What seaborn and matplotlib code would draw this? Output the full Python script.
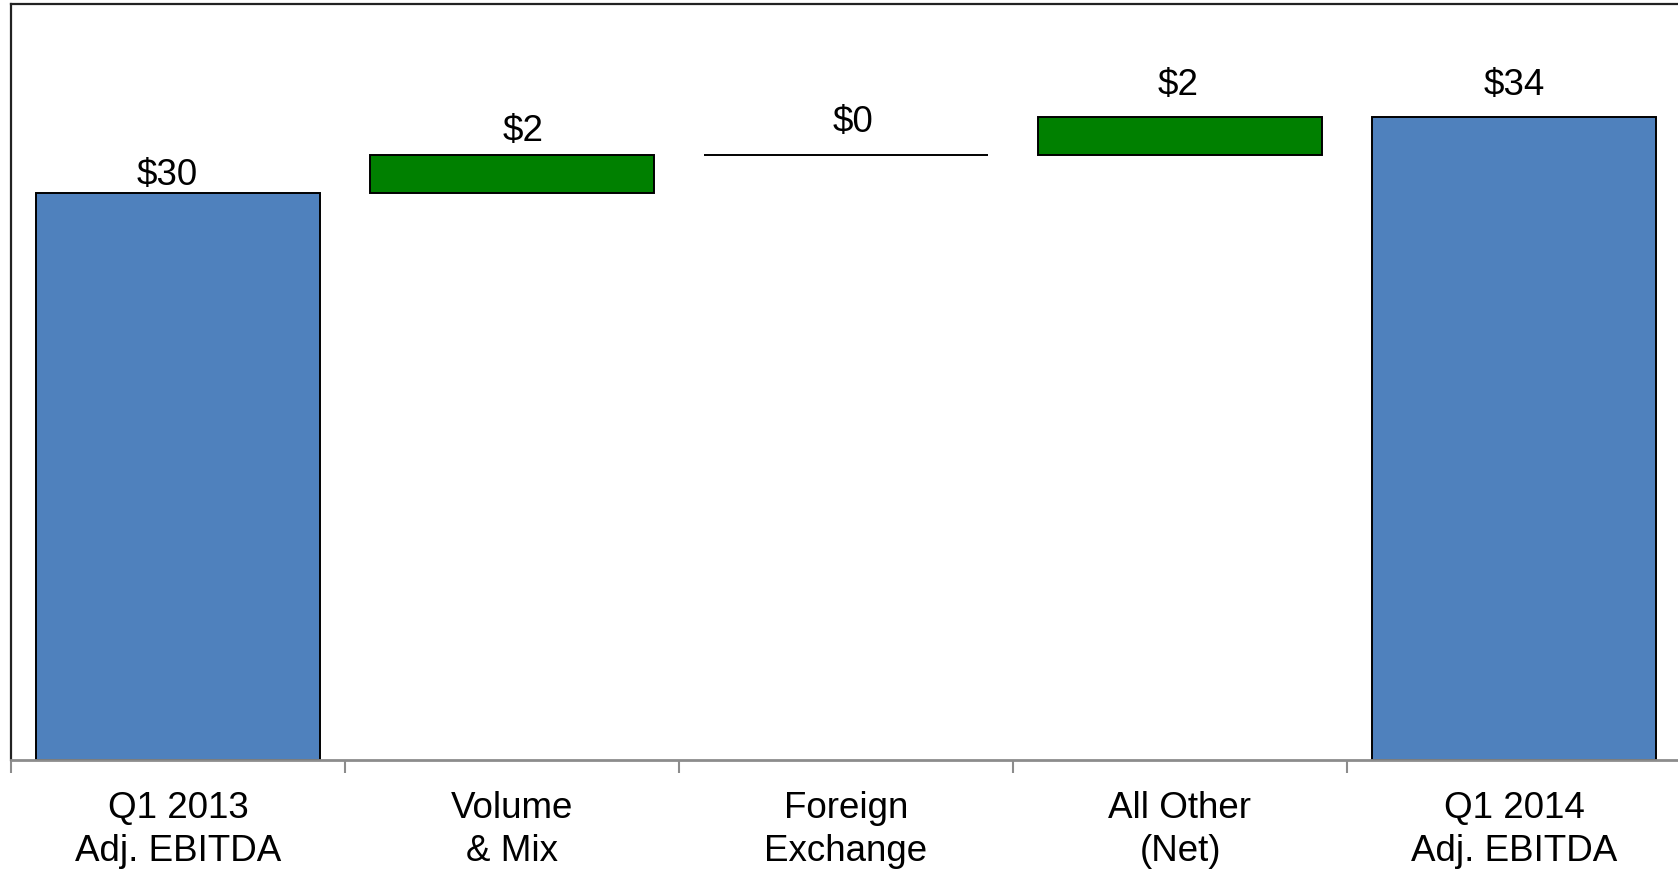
import numpy as np
import pandas as pd
import matplotlib
matplotlib.use("Agg")
import matplotlib.pyplot as plt
import seaborn as sns

# ---- data ----
categories = ["Q1 2013\nAdj. EBITDA", "Volume\n& Mix", "Foreign\nExchange",
              "All Other\n(Net)", "Q1 2014\nAdj. EBITDA"]
values = [30, 2, 0, 2, 34]
kinds = ["total", "delta", "delta", "delta", "total"]
value_labels = ["$30", "$2", "$0", "$2", "$34"]

# ---- waterfall geometry from data ----
bottoms = []
running = 0
for v, k in zip(values, kinds):
    if k == "total":
        bottoms.append(0)
        running = v
    else:
        bottoms.append(running)
        running += v
tops = [b + v for b, v in zip(bottoms, values)]

df = pd.DataFrame({"category": categories, "value": values, "bottom": bottoms})

sns.set_theme(style="white")
plt.rcParams["font.family"] = ["Liberation Sans", "DejaVu Sans"]

fig = plt.figure(figsize=(16.78, 8.7001), dpi=100)
ax = fig.add_axes([11 / 1678, 1 - 760 / 870, 1670 / 1678, 756 / 870])

colors = {"total": "#4F81BD", "delta": "#008000"}
sns.barplot(data=df, x="category", y="value", order=categories, bottom=bottoms,
            color=colors["total"], width=0.85, edgecolor="black", linewidth=1.4,
            ax=ax, errorbar=None)
for patch, k in zip(ax.patches, kinds):
    patch.set_facecolor(colors[k])
    patch.set_edgecolor("black")

ax.set_ylim(0, 40)
ax.set_xlim(-0.5, 4.5)
ax.set_xlabel("")
ax.set_ylabel("")
ax.set_yticks([])

# label offsets relative to bar top centre (pixels -> points)
label_dx_px = [-11, 11, 7, -2, 0]
label_dy_px = [18, 24, 33, 32, 32]
for i, (t, lab, dx, dy) in enumerate(zip(tops, value_labels, label_dx_px, label_dy_px)):
    ax.annotate(lab, xy=(i, t), xytext=(dx * 0.72, dy * 0.72), textcoords="offset points",
                ha="center", va="center", fontsize=26.5, color="black")

# ticks: labels at centers, tick marks at category boundaries
ax.set_xticks(range(len(categories)))
ax.set_xticklabels(categories, fontsize=26.5, color="black", linespacing=1.28)
ax.tick_params(axis="x", which="major", length=0, pad=22.5)
ax.set_xticks(np.arange(-0.5, len(categories), 1.0), minor=True)
ax.tick_params(axis="x", which="minor", length=9, width=1.5, color="#8c8c8c",
               direction="out", bottom=True)

for side in ["top", "left", "right"]:
    ax.spines[side].set_visible(True)
    ax.spines[side].set_color("#222222")
    ax.spines[side].set_linewidth(1.6)
ax.spines["bottom"].set_color("#8c8c8c")
ax.spines["bottom"].set_linewidth(2)

fig.savefig("out.png", dpi=100, facecolor="white")
